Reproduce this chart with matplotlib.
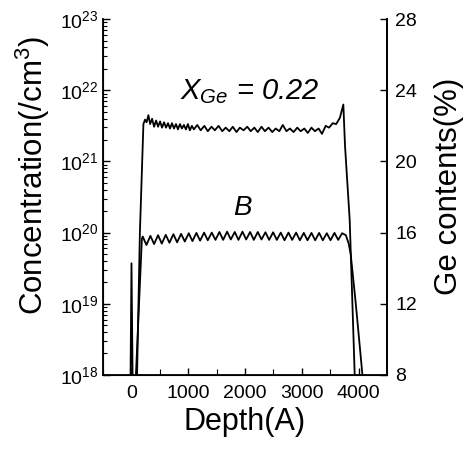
import numpy as np
import matplotlib
matplotlib.use('Agg')
import matplotlib.pyplot as plt
from matplotlib.ticker import LogLocator, MultipleLocator, NullFormatter

plt.rcParams['font.family'] = ['Liberation Sans', 'DejaVu Sans']
plt.rcParams['mathtext.fontset'] = 'custom'
plt.rcParams['mathtext.rm'] = 'Liberation Sans'
plt.rcParams['mathtext.it'] = 'Liberation Sans:italic'

# Boron profile, depth (A) vs concentration (/cm3)
b_depth = [-20, 2, 28, 60, 80, 185, 200, 265, 335, 400, 470, 535, 605, 670, 740, 805,
           875, 940, 1010, 1075, 1145, 1210, 1280, 1345, 1415, 1480, 1550, 1615,
           1685, 1750, 1820, 1885, 1955, 2020, 2090, 2155, 2225, 2290, 2360, 2425,
           2495, 2560, 2630, 2695, 2765, 2830, 2900, 2965, 3035, 3100, 3170, 3235,
           3305, 3370, 3440, 3505, 3575, 3640, 3710, 3775, 3825, 3860, 3950, 4067, 4120]
b_conc = [3e17, 3.7e19, 3e17, 5e17, 1e18, 8.2e19, 8.8e19, 6.7e19, 9.0e19, 6.9e19,
          9.2e19, 7.0e19, 9.3e19, 7.2e19, 9.5e19, 7.3e19, 9.6e19, 7.5e19, 9.8e19,
          7.6e19, 9.9e19, 7.7e19, 1.0e20, 7.8e19, 1.0e20, 7.9e19, 1.02e20, 7.9e19,
          1.03e20, 8.0e19, 1.02e20, 7.9e19, 1.03e20, 8.0e19, 1.02e20, 7.9e19,
          1.02e20, 8.0e19, 1.01e20, 7.9e19, 1.01e20, 7.9e19, 1.0e20, 7.8e19,
          1.0e20, 7.9e19, 1.0e20, 7.8e19, 9.9e19, 7.8e19, 9.9e19, 7.8e19, 9.9e19,
          7.8e19, 9.8e19, 7.8e19, 9.9e19, 7.9e19, 9.8e19, 9.2e19, 7.0e19, 5.0e19,
          1.0e19, 1.0e18, 4e17]

# Ge content, depth (A) vs %
ge_depth = [80, 100, 150, 212, 240, 268, 300, 330, 365, 400, 435, 470, 505, 540,
            575, 610, 645, 680, 715, 750, 785, 820, 855, 890, 925, 960, 995, 1030,
            1065, 1100, 1160, 1220, 1285, 1345, 1410, 1470, 1535, 1600, 1660, 1725,
            1785, 1850, 1910, 1975, 2040, 2100, 2165, 2225, 2290, 2350, 2415, 2480,
            2540, 2605, 2665, 2730, 2790, 2855, 2920, 2980, 3045, 3105, 3170, 3230,
            3295, 3355, 3420, 3480, 3545, 3605, 3670, 3731, 3760, 3843, 3931, 3960]
ge_pct = [6.0, 8.0, 16.0, 22.1, 22.35, 22.2, 22.6, 22.1, 22.4, 21.95, 22.3, 21.95,
          22.25, 21.9, 22.2, 21.9, 22.15, 21.85, 22.15, 21.85, 22.1, 21.8, 22.1,
          21.85, 22.05, 21.8, 22.1, 21.75, 22.0, 21.8, 22.05, 21.75, 22.0, 21.7,
          21.95, 21.75, 22.0, 21.7, 21.9, 21.7, 21.95, 21.65, 21.9, 21.75, 21.95,
          21.7, 21.9, 21.65, 21.95, 21.7, 21.9, 21.65, 21.85, 21.7, 22.05, 21.7,
          21.85, 21.65, 21.9, 21.7, 21.85, 21.6, 21.9, 21.7, 21.85, 21.55, 22.0,
          21.9, 22.15, 22.1, 22.45, 23.2, 20.9, 16.7, 8.0, 6.0]

fig = plt.figure(figsize=(4.68, 4.55), dpi=100)
ax = fig.add_axes([0.220, 0.176, 0.607, 0.782])

ax.plot(b_depth, b_conc, color='black', lw=1.3)
ax.set_yscale('log')
ax.set_ylim(1e18, 1e23)
ax.set_xlim(-500, 4500)
ax.xaxis.set_major_locator(MultipleLocator(1000))
ax.xaxis.set_minor_locator(MultipleLocator(500))
ax.yaxis.set_major_locator(LogLocator(base=10, numticks=10))
ax.yaxis.set_minor_locator(LogLocator(base=10, subs=np.arange(2, 10), numticks=10))
ax.yaxis.set_minor_formatter(NullFormatter())
ax.tick_params(which='major', direction='in', length=5, width=1, labelsize=14)
ax.tick_params(which='minor', direction='in', length=3, width=0.8)
ax.tick_params(axis='x', which='both', pad=7)
ax.tick_params(axis='x', which='minor', length=4)
ax.spines['top'].set_visible(False)
for s in ['left', 'bottom', 'right']:
    ax.spines[s].set_linewidth(1.3)
ax.set_xlabel('Depth(A)', fontsize=22, labelpad=4)
ax.set_ylabel('Concentration(/cm$^3$)', fontsize=22.5)
ax.yaxis.set_label_coords(-0.18, 0.56)

ax2 = ax.twinx()
ax2.plot(ge_depth, ge_pct, color='black', lw=1.3)
ax2.set_ylim(8, 28)
ax2.yaxis.set_major_locator(MultipleLocator(4))
ax2.tick_params(direction='in', length=5, width=1, labelsize=14, pad=6)
ax2.spines['top'].set_visible(False)
ax2.spines['right'].set_linewidth(1.3)
ax2.set_ylabel('Ge contents(%)', fontsize=22.5)
ax2.yaxis.set_label_coords(1.165, 0.53)

ax2.text(2090, 23.9, r'$X_{Ge}$ = 0.22', fontsize=21, style='italic',
         ha='center', va='center')
ax.text(1960, 2.2e20, 'B', fontsize=20, style='italic', ha='center', va='center')

fig.savefig('out.png', dpi=100)
